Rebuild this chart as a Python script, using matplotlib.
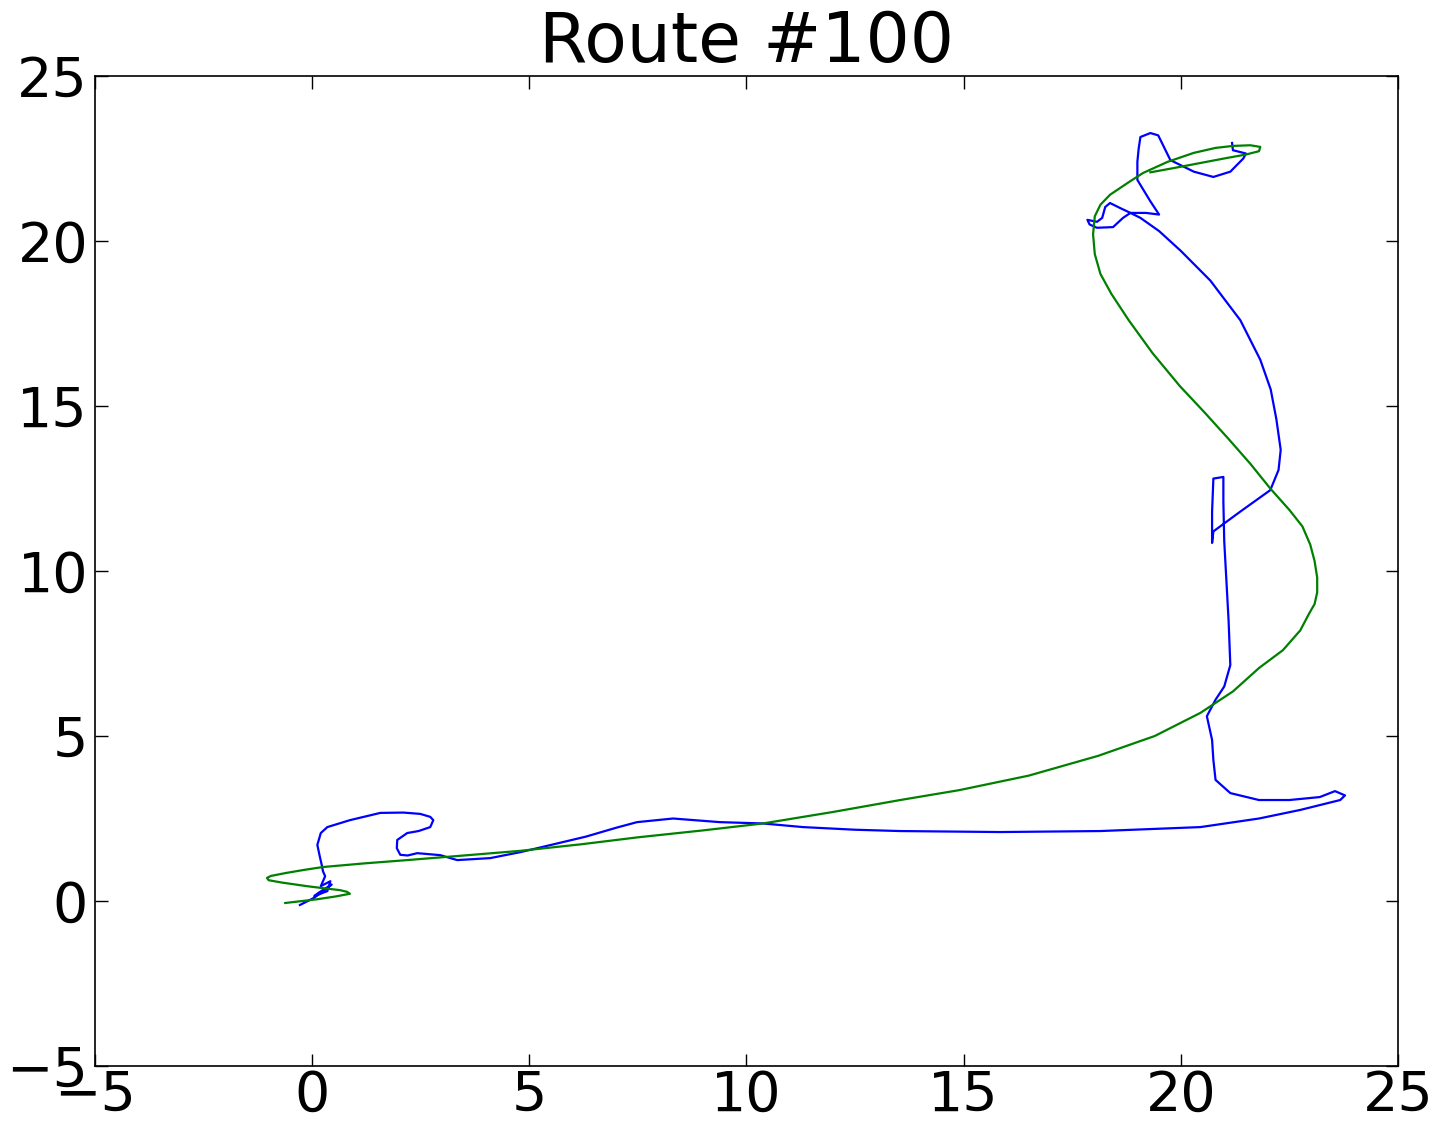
import numpy as np
import matplotlib
matplotlib.use('Agg')
import matplotlib.pyplot as plt

route_x = [-0.28, 0.05, 0.30, 0.45, 0.15, 0.05, 0.35, 0.42, 0.20, 0.30, 0.25,
           0.22, 0.18, 0.12, 0.20, 0.35, 0.87, 1.57, 2.10, 2.49, 2.72, 2.79,
           2.72, 2.45, 2.19, 1.96, 1.95, 2.03, 2.20, 2.42, 2.95, 3.34, 4.10,
           4.79, 5.02, 6.30, 7.00, 7.48, 8.31, 9.39, 10.38, 11.30, 12.50, 13.54,
           15.84, 18.14, 20.45, 21.80, 22.75, 23.67, 23.78, 23.55, 23.20, 22.50,
           21.80, 21.14, 20.80, 20.75, 20.72, 20.60, 20.80, 21.00, 21.14, 21.10,
           21.05, 21.00, 20.98, 20.98, 20.75, 20.72, 20.72, 20.75, 21.37, 22.06,
           22.25, 22.30, 22.20, 22.07, 21.83, 21.37, 20.68, 20.00, 19.50, 19.07,
           18.84, 18.60, 18.37, 18.26, 18.19, 18.07, 17.85, 17.90, 18.07, 18.44,
           18.67, 18.84, 19.20, 19.50, 19.30, 19.00, 19.00, 19.03, 19.07, 19.30,
           19.48, 19.76, 20.30, 20.75, 21.14, 21.44, 21.50, 21.20, 21.18]
route_y = [-0.12, 0.10, 0.35, 0.50, 0.25, 0.15, 0.30, 0.60, 0.45, 0.75, 0.90,
           1.10, 1.33, 1.70, 2.06, 2.24, 2.45, 2.67, 2.68, 2.64, 2.55, 2.45,
           2.24, 2.12, 2.06, 1.85, 1.60, 1.40, 1.38, 1.45, 1.39, 1.24, 1.30,
           1.48, 1.55, 1.95, 2.22, 2.39, 2.50, 2.39, 2.35, 2.24, 2.16, 2.12,
           2.09, 2.12, 2.24, 2.50, 2.76, 3.06, 3.20, 3.33, 3.15, 3.06,
           3.06, 3.27, 3.67, 4.27, 4.88, 5.60, 6.10, 6.50, 7.15, 8.50,
           9.70, 10.90, 12.10, 12.85, 12.80, 11.80, 10.85, 11.20, 11.80, 12.45,
           13.06, 13.67, 14.60, 15.50, 16.40, 17.60, 18.80, 19.70, 20.30, 20.70,
           20.85, 21.00, 21.15, 21.03, 20.70, 20.58, 20.64, 20.50, 20.40, 20.42,
           20.70, 20.85, 20.85, 20.80, 21.20, 21.85, 22.40, 22.80, 23.15, 23.27,
           23.20, 22.45, 22.10, 21.94, 22.10, 22.50, 22.65, 22.75, 22.97]

# smoothed estimate (green)
est_x = [-0.62, 0.10, 0.55, 0.87, 0.80, 0.64, 0.25, -0.12, -0.70, -1.00, -1.04,
         -0.95, -0.60, -0.20, 0.25, 1.20, 2.19, 3.50, 4.79, 6.20, 7.50, 9.00,
         10.38, 12.00, 13.54, 14.90, 16.50, 18.10, 19.40, 20.45, 21.20, 21.80,
         22.35, 22.75, 22.95, 23.08, 23.14, 23.14, 23.08, 22.98, 22.80, 22.50,
         22.06, 21.60, 21.10, 20.55, 19.98, 19.35, 18.80, 18.40, 18.15, 18.02,
         17.98, 18.02, 18.15, 18.37, 18.80, 19.13, 19.70, 20.30, 20.80, 21.20,
         21.60, 21.83, 21.80, 21.50, 21.00, 20.40, 19.80, 19.30]
est_y = [-0.06, 0.05, 0.14, 0.22, 0.28, 0.33, 0.39, 0.45, 0.56, 0.63, 0.70,
         0.76, 0.85, 0.94, 1.03, 1.14, 1.24, 1.38, 1.52, 1.72, 1.93, 2.14,
         2.35, 2.70, 3.06, 3.36, 3.80, 4.40, 5.00, 5.70, 6.35, 7.06,
         7.60, 8.20, 8.70, 9.00, 9.35, 9.80, 10.30, 10.80, 11.35, 11.85,
         12.50, 13.25, 14.00, 14.80, 15.60, 16.60, 17.60, 18.40, 19.00, 19.60,
         20.20, 20.75, 21.10, 21.40, 21.78, 22.06, 22.40, 22.67, 22.82, 22.88,
         22.90, 22.85, 22.72, 22.62, 22.50, 22.35, 22.20, 22.08]

fig = plt.figure(figsize=(14.43, 11.27), dpi=100)
ax = fig.add_axes([0.0658, 0.0541, 0.903, 0.8785])

ax.plot(route_x, route_y, color='b', lw=1.6)
ax.plot(est_x, est_y, color='g', lw=1.6)

ax.set_xlim(-5, 25)
ax.set_ylim(-5, 25)
ax.set_xticks(np.arange(-5, 26, 5))
ax.set_yticks(np.arange(-5, 26, 5))
ax.tick_params(direction='in', top=True, right=True, length=9, width=1,
               labelsize=40)
ax.tick_params(axis='x', pad=2)
ax.tick_params(axis='y', pad=5)
for s in ax.spines.values():
    s.set_linewidth(1.2)

ax.set_title('Route #100', fontsize=50, pad=10)

fig.savefig('out.png', dpi=100)
